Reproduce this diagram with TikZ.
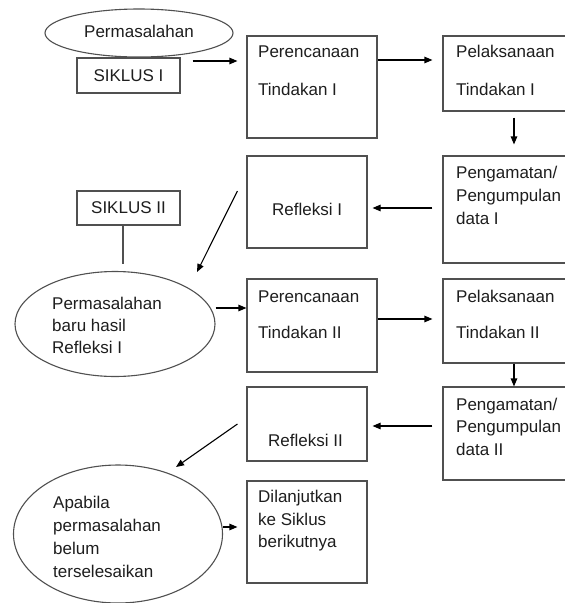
\documentclass[tikz,border=0pt]{standalone}
\usepackage{fontspec}
\setmainfont{Liberation Sans}
\usetikzlibrary{arrows.meta,shapes.geometric}
\definecolor{boxgray}{HTML}{505050}
\definecolor{textgray}{HTML}{1E1E1E}
\begin{document}
\begin{tikzpicture}[x=1pt,y=-1pt,
  box/.style={draw=boxgray, line width=1.1pt, rectangle, inner sep=0pt, font=\fontsize{17}{23}\selectfont, text=textgray},
  ell/.style={draw=boxgray, line width=1.1pt, ellipse, inner sep=0pt, font=\fontsize{17}{23}\selectfont, text=textgray},
  txt/.style={anchor=base west, inner sep=0pt, font=\fontsize{17}{23}\selectfont, text=textgray},
  arr/.style={-{Triangle[length=8pt,width=6.5pt]}, line width=1.1pt, black},
  plain/.style={line width=1.1pt, boxgray}]
\clip (0,0) rectangle (565,603);
\fill[white] (0,0) rectangle (565,603);

% Cycle I
\node[ell, minimum width=188pt, minimum height=48pt] (e1) at (139,33) {};
\node[txt, anchor=base] (e1t) at (139,37) {Permasalahan};
\node[box, minimum width=103pt, minimum height=35pt] (s1) at (128.5,75.5) {};
\node[txt, anchor=base] (s1t) at (128.5,81) {SIKLUS I};

\node[box, minimum width=130pt, minimum height=102pt] (p1) at (312,87) {};
\node[txt] (p1a) at (258,57) {Perencanaan};
\node[txt] (p1b) at (258,95) {Tindakan I};

\node[box, minimum width=157pt, minimum height=75pt] (l1) at (521.5,73.5) {};
\node[txt] (l1a) at (456,57) {Pelaksanaan};
\node[txt] (l1b) at (456,95) {Tindakan I};

\node[box, minimum width=157pt, minimum height=107pt] (g1) at (521.5,209.5) {};
\node[txt] (g1a) at (456,178) {Pengamatan/};
\node[txt] (g1b) at (456,201) {Pengumpulan};
\node[txt] (g1c) at (456,224) {data I};

\node[box, minimum width=120pt, minimum height=92pt] (r1) at (307,202) {};
\node[txt] (r1a) at (272,215) {Refleksi I};

% Cycle II
\node[box, minimum width=103pt, minimum height=34pt] (s2) at (128.5,208) {};
\node[txt, anchor=base] (s2t) at (128.5,213) {SIKLUS II};

\node[ell, minimum width=200pt, minimum height=105pt] (e2) at (115,324) {};
\node[txt] (e2a) at (52,309) {Permasalahan};
\node[txt] (e2b) at (52,331) {baru hasil};
\node[txt] (e2c) at (52,353) {Refleksi I};

\node[box, minimum width=130pt, minimum height=93pt] (p2) at (312,325.5) {};
\node[txt] (p2a) at (258,302) {Perencanaan};
\node[txt] (p2b) at (258,338) {Tindakan II};

\node[box, minimum width=157pt, minimum height=84pt] (l2) at (521.5,321) {};
\node[txt] (l2a) at (456,302) {Pelaksanaan};
\node[txt] (l2b) at (456,338) {Tindakan II};

\node[box, minimum width=157pt, minimum height=93pt] (g2) at (521.5,433.5) {};
\node[txt] (g2a) at (456,410) {Pengamatan/};
\node[txt] (g2b) at (456,432) {Pengumpulan};
\node[txt] (g2c) at (456,455) {data II};

\node[box, minimum width=120pt, minimum height=74pt] (r2) at (307,424) {};
\node[txt] (r2a) at (268,446) {Refleksi II};

\node[ell, minimum width=209pt, minimum height=138pt] (e3) at (118,534) {};
\node[txt] (e3a) at (53,508) {Apabila};
\node[txt] (e3b) at (53,531) {permasalahan};
\node[txt] (e3c) at (53,554) {belum};
\node[txt] (e3d) at (53,577) {terselesaikan};

\node[box, minimum width=120pt, minimum height=102pt] (d) at (307,532) {};
\node[txt] (da) at (258,502) {Dilanjutkan};
\node[txt] (db) at (258,525) {ke Siklus};
\node[txt] (dc) at (258,547) {berikutnya};

\coordinate (a1end) at (197,272);
\coordinate (a2end) at (176,467);

% connectors
\draw[arr, shorten >=9pt] ([xshift=12pt,yshift=14.5pt]s1.east) -- ([yshift=26pt]p1.west);
\draw[arr, shorten >=10pt] ([yshift=27pt]p1.east) -- ([yshift=13.5pt]l1.west);
\draw[arr, shorten <=6pt, shorten >=11pt] ([xshift=-7.5pt]l1.south) -- ([xshift=-7.5pt]g1.north);
\draw[arr, shorten <=10pt, shorten >=5pt] ([yshift=1.5pt]g1.west) -- ([yshift=-6pt]r1.east);
\draw[arr] ([xshift=-9pt,yshift=11pt]r1.west) -- (a1end);
\draw[plain] ([xshift=-5.5pt]s2.south) -- ++(0,38);
\draw[arr] ([yshift=16pt]e2.east) -- ([yshift=17.5pt]p2.west);
\draw[arr, shorten >=10pt] ([yshift=6.5pt]p2.east) -- ([yshift=2pt]l2.west);
\draw[arr] ([xshift=-7.5pt]l2.south) -- ([xshift=-7.5pt]g2.north);
\draw[arr, shorten <=10pt, shorten >=5pt] ([yshift=7.5pt]g2.west) -- ([yshift=-2pt]r2.east);
\draw[arr] ([xshift=-9pt]r2.west) -- (a2end);
\draw[arr, shorten >=9pt] ([yshift=7pt]e3.east) -- ([yshift=5pt]d.west);
\end{tikzpicture}
\end{document}
